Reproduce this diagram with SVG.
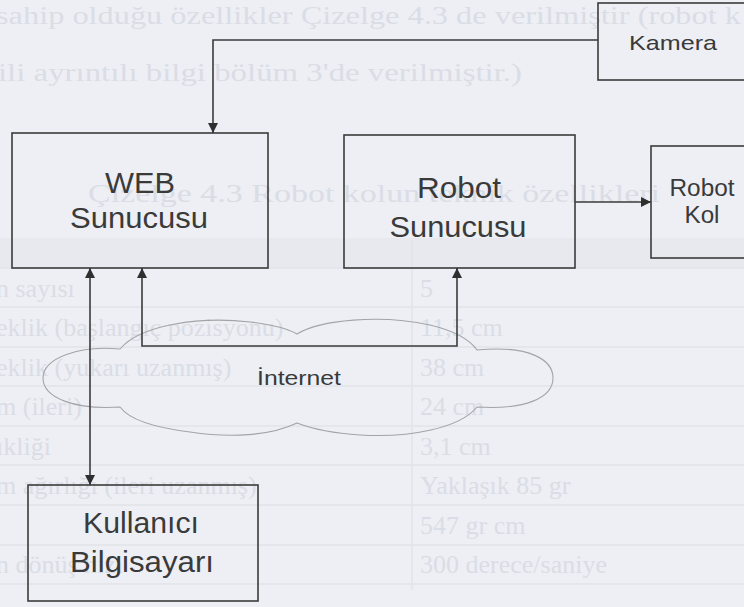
<svg xmlns="http://www.w3.org/2000/svg" width="744" height="607" viewBox="0 0 744 607">
  <defs>
    <style>
      .bg { fill: #edeff4; }
      .ghost { font-family: "Liberation Serif", "Times New Roman", serif; font-size: 26px; fill: #dadde6; }
      .rule { stroke: #e0e3ea; stroke-width: 1.5; fill: none; }
      .box { fill: none; stroke: #3b3b3b; stroke-width: 1.6; }
      .label { font-family: "Liberation Sans", Arial, sans-serif; fill: #3a3a3a; text-anchor: middle; }
      .big { font-size: 29px; }
      .mid { font-size: 23px; }
      .small { font-size: 21px; }
      .wire { fill: none; stroke: #3b3b3b; stroke-width: 1.6; }
      .cloud { fill: none; stroke: #a2a4a8; stroke-width: 1.1; }
    </style>
    <marker id="arrow" viewBox="0 0 10 10" refX="10" refY="5" markerWidth="11" markerHeight="10" markerUnits="userSpaceOnUse" orient="auto-start-reverse">
      <path d="M0,0 L10,5 L0,10 Z" fill="#2f2f2f"/>
    </marker>
  </defs>

  <!-- paper -->
  <rect class="bg" x="0" y="0" width="744" height="607"/>

  <!-- faint show-through from the reverse page -->
  <g id="show-through">
    <rect x="0" y="238" width="744" height="30" fill="#e7e9ef"/>
    <text class="ghost" x="-4" y="24" textLength="745" lengthAdjust="spacingAndGlyphs">sahip olduğu özellikler Çizelge 4.3 de verilmiştir (robot k</text>
    <text class="ghost" x="-2" y="81" textLength="524" lengthAdjust="spacingAndGlyphs">ili ayrıntılı bilgi bölüm 3'de verilmiştir.)</text>
    <text class="ghost" x="88" y="202" textLength="572" lengthAdjust="spacingAndGlyphs">Çizelge 4.3 Robot kolun teknik özellikleri</text>
    <line class="rule" x1="412" y1="240" x2="412" y2="590"/>
    <line class="rule" x1="0" y1="268" x2="744" y2="268"/>
    <line class="rule" x1="0" y1="307" x2="744" y2="307"/>
    <line class="rule" x1="0" y1="347" x2="744" y2="347"/>
    <line class="rule" x1="0" y1="386" x2="744" y2="386"/>
    <line class="rule" x1="0" y1="426" x2="744" y2="426"/>
    <line class="rule" x1="0" y1="465" x2="744" y2="465"/>
    <line class="rule" x1="0" y1="505" x2="744" y2="505"/>
    <line class="rule" x1="0" y1="545" x2="744" y2="545"/>
    <line class="rule" x1="0" y1="584" x2="744" y2="584"/>
    <text class="ghost" x="-4" y="297">n sayısı</text>
    <text class="ghost" x="-4" y="336">eklik (başlangıç pozisyonu)</text>
    <text class="ghost" x="-4" y="376">eklik (yukarı uzanmış)</text>
    <text class="ghost" x="-4" y="415">m (ileri)</text>
    <text class="ghost" x="-4" y="455">ıkliği</text>
    <text class="ghost" x="-4" y="494">m ağırlığı (ileri uzanmış)</text>
    <text class="ghost" x="-4" y="573">n dönüş hızı</text>
    <text class="ghost" x="420" y="297">5</text>
    <text class="ghost" x="420" y="336">11,5 cm</text>
    <text class="ghost" x="420" y="376">38 cm</text>
    <text class="ghost" x="420" y="415">24 cm</text>
    <text class="ghost" x="420" y="455">3,1 cm</text>
    <text class="ghost" x="420" y="494">Yaklaşık 85 gr</text>
    <text class="ghost" x="420" y="534">547 gr cm</text>
    <text class="ghost" x="420" y="573">300 derece/saniye</text>
  </g>

  <!-- network cloud -->
  <g id="internet">
    <path class="cloud" d="M120,349 C140,325 200,316 250,322 C275,325 290,330 297,334 C320,320 380,314 430,325 C455,331 470,340 477,350 C530,345 553,360 553,378 C553,398 525,410 477,407 C460,428 410,438 360,435 C330,433 310,428 297,423 C270,436 230,438 190,432 C150,427 128,418 120,407 C75,410 43,398 43,378 C43,358 80,345 120,349 Z"/>
    <text class="label small" x="299" y="385" textLength="84" lengthAdjust="spacingAndGlyphs">İnternet</text>
  </g>

  <g id="kamera">
    <rect class="box" x="598" y="3" width="160" height="77"/>
    <text class="label small" x="673" y="50" textLength="88" lengthAdjust="spacingAndGlyphs">Kamera</text>
  </g>

  <g id="web-sunucusu">
    <rect class="box" x="12" y="133" width="256" height="135"/>
    <text class="label big" x="140" y="193" textLength="70" lengthAdjust="spacingAndGlyphs">WEB</text>
    <text class="label big" x="139" y="228" textLength="138" lengthAdjust="spacingAndGlyphs">Sunucusu</text>
  </g>

  <g id="robot-sunucusu">
    <rect class="box" x="344" y="135" width="231" height="133"/>
    <text class="label big" x="459" y="198" textLength="84" lengthAdjust="spacingAndGlyphs">Robot</text>
    <text class="label big" x="458" y="237" textLength="137" lengthAdjust="spacingAndGlyphs">Sunucusu</text>
  </g>

  <g id="robot-kol">
    <rect class="box" x="651" y="146" width="110" height="112"/>
    <text class="label mid" x="702" y="196" textLength="65" lengthAdjust="spacingAndGlyphs">Robot</text>
    <text class="label mid" x="702" y="223" textLength="35" lengthAdjust="spacingAndGlyphs">Kol</text>
  </g>

  <g id="kullanici-bilgisayari">
    <rect class="box" x="28" y="485" width="230" height="116"/>
    <text class="label big" x="141" y="533" textLength="116" lengthAdjust="spacingAndGlyphs">Kullanıcı</text>
    <text class="label big" x="142" y="572" textLength="144" lengthAdjust="spacingAndGlyphs">Bilgisayarı</text>
  </g>

  <!-- connectors -->
  <g id="connectors">
    <path class="wire" d="M598,40 H213 V133" marker-end="url(#arrow)"/>
    <path class="wire" d="M575,202 H651" marker-end="url(#arrow)"/>
    <path class="wire" d="M142,268 V346 H457 V268" marker-start="url(#arrow)" marker-end="url(#arrow)"/>
    <path class="wire" d="M90,268 V485" marker-start="url(#arrow)" marker-end="url(#arrow)"/>
  </g>
</svg>
